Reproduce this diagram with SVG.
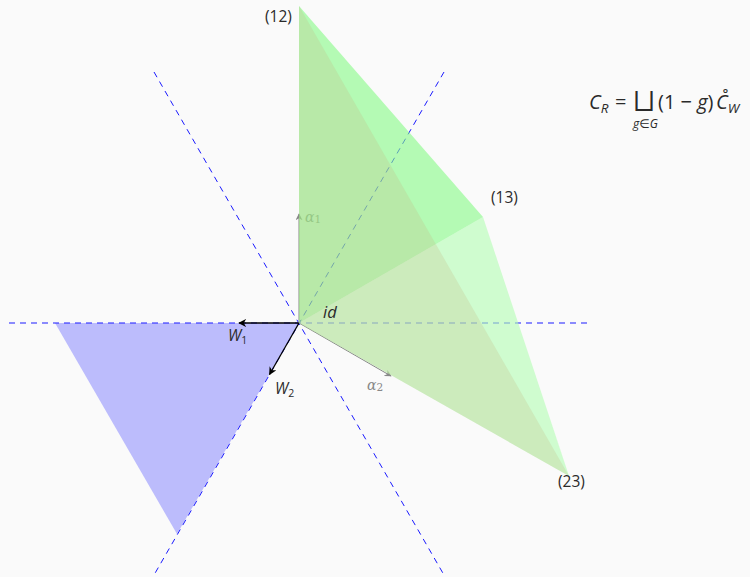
<svg xmlns="http://www.w3.org/2000/svg" width="750" height="577" viewBox="0 0 750 577">
<defs>
<style>
.axis{stroke:#1a1aff;stroke-width:1;stroke-dasharray:6 5;fill:none}
.lbl{font-family:"Open Sans","Noto Sans","DejaVu Sans",sans-serif;fill:#2a2a2a}
.it{font-style:italic}
.alpha{font-family:"DejaVu Serif","Liberation Serif",serif;font-style:italic;fill:#888}
</style>
<marker id="ahB" viewBox="0 0 10 10" refX="9" refY="5" markerWidth="8" markerHeight="8" markerUnits="userSpaceOnUse" orient="auto">
<path d="M0,0 L10,5 L0,10 L3,5 Z" fill="#000"/>
</marker>
<marker id="ahG" viewBox="0 0 10 10" refX="9" refY="5" markerWidth="7" markerHeight="7" markerUnits="userSpaceOnUse" orient="auto">
<path d="M0,0 L10,5 L0,10 L3,5 Z" fill="#888"/>
</marker>
</defs>
<rect width="750" height="577" fill="#fafafa"/>
<g id="chamberW">
<polygon points="299,323 55,323 177,534" fill="#bcbcfc"/>
</g>
<g id="connectors">
<line class="axis" x1="9" y1="323" x2="591" y2="323"/>
<line class="axis" x1="154" y1="72" x2="444" y2="575"/>
<line class="axis" x1="444" y1="72" x2="154" y2="575"/>
<line x1="299" y1="323" x2="239" y2="323" stroke="#000" stroke-width="1.3" marker-end="url(#ahB)"/>
<line x1="299" y1="323" x2="269.5" y2="374.5" stroke="#000" stroke-width="1.3" marker-end="url(#ahB)"/>
<line x1="299" y1="323" x2="299" y2="214" stroke="#888" stroke-width="1" marker-end="url(#ahG)"/>
<line x1="299" y1="323" x2="391" y2="376" stroke="#888" stroke-width="1" marker-end="url(#ahG)"/>
</g>
<text class="alpha" x="305" y="222" font-size="14">α<tspan font-size="10.5" font-style="normal" dy="1">1</tspan></text>
<text class="alpha" x="367" y="390" font-size="14">α<tspan font-size="10.5" font-style="normal" dy="1">2</tspan></text>
<g id="chambers">
<polygon id="c13_23" points="299,323 483,217 569,476" fill="#b2fdb2" fill-opacity="0.6"/>
<polygon id="c12_13" points="299,323 299,6 483,217" fill="#85fa85" fill-opacity="0.6"/>
<polygon id="c12_23" points="299,323 299,6 569,476" fill="#c5b985" fill-opacity="0.25"/>
</g>
<g id="labels">
<text class="lbl" x="265" y="22" font-size="15.5">(12)</text>
<text class="lbl" x="491" y="203" font-size="15.5">(13)</text>
<text class="lbl" x="558" y="487" font-size="15.5">(23)</text>
<text class="lbl it" x="323" y="318" font-size="16.5">id</text>
<text class="lbl it" x="228" y="341" font-size="15.5">W<tspan font-size="10.5" font-style="normal" dy="3">1</tspan></text>
<text class="lbl it" x="275" y="394" font-size="15.5">W<tspan font-size="10.5" font-style="normal" dy="3">2</tspan></text>
</g>
<g id="formula" class="lbl">
<text class="it" x="589" y="109" font-size="20">C<tspan font-size="13.5" dy="4">R</tspan></text>
<text x="615" y="109" font-size="20">=</text>
<text x="634" y="109" font-size="25" font-family="DejaVu Sans,sans-serif">⨆</text>
<text class="it" x="633" y="128" font-size="12">g∈G</text>
<text x="658" y="109" font-size="20">(1 − <tspan font-style="italic">g</tspan>)</text>
<text class="it" x="716" y="109" font-size="20">C̊<tspan font-size="13.5" dy="4">W</tspan></text>
</g>
</svg>
